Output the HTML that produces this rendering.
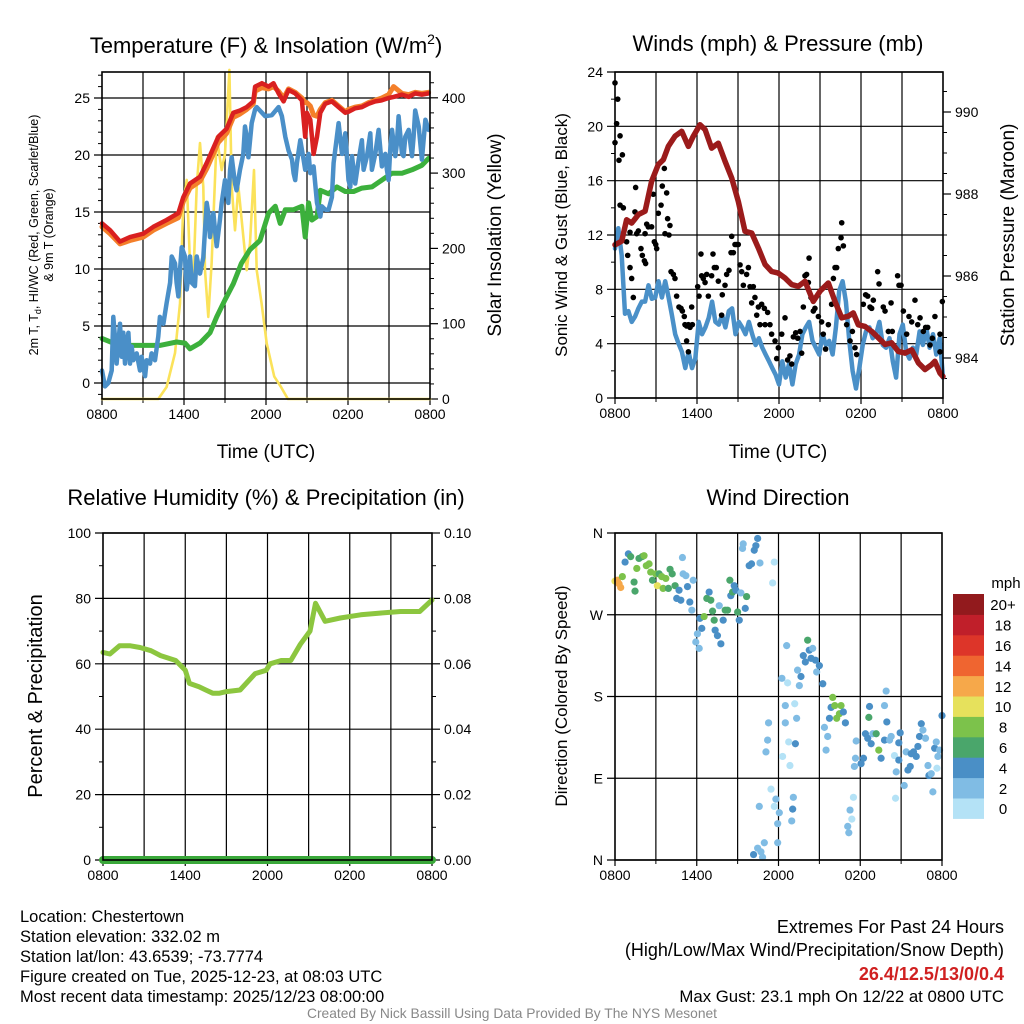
<!DOCTYPE html>
<html><head><meta charset="utf-8"><style>
body{margin:0;background:#fff;}
svg{display:block;font-family:"Liberation Sans",Arial,sans-serif;}
</style></head><body>
<svg id="c" width="1024" height="1024" viewBox="0 0 1024 1024"></svg>
<script>
// ---- Panel 1 data (hours since 0800 UTC) ----
const tempHours = [0,0.59,1.32,2.05,3.02,3.76,4.73,5.59,5.95,6.44,7.17,7.66,8.51,9.12,9.61,10.1,10.59,11.07,11.2,11.7,12.19,12.55,12.92,13.29,13.65,14.14,14.63,14.87,14.99,15.24,15.48,15.73,15.97,16.34,16.82,17.31,17.8,18.04,18.53,19.02,19.51,20.0,20.48,20.97,21.34,21.95,22.44,22.92,23.41,23.9];
const tempVals = [14.0,13.4,12.4,12.8,13.1,13.7,14.3,14.9,16.3,17.5,18.1,19.3,21.6,22.3,23.7,23.9,24.2,24.7,26.0,26.3,26.0,26.3,25.4,24.7,25.7,25.4,24.8,21.6,23.7,23.1,20.1,21.6,23.7,24.5,24.7,24.2,23.7,23.8,24.1,24.2,24.5,24.7,24.8,25.0,25.1,25.3,25.1,25.4,25.3,25.4];
const temp9Vals = [13.7,13.1,12.2,12.5,12.8,13.4,14.0,14.5,15.9,17.1,17.7,18.8,21.1,21.9,23.3,23.6,24.0,24.5,25.6,25.9,25.8,26.0,25.6,25.0,25.8,25.5,25.0,24.6,24.6,24.3,23.5,23.4,24.0,24.6,24.8,24.3,23.8,24.0,24.2,24.3,24.6,24.8,25.0,25.3,26.0,25.4,25.3,25.5,25.4,25.5];
const dewHours = [0,0.83,1.8,3.02,4.24,5.46,6.07,6.44,7.17,7.9,8.39,9.0,9.61,10.2,10.83,11.56,12.19,12.68,13.04,13.41,14.02,14.63,14.87,15.12,15.36,15.73,15.97,16.58,17.19,17.8,18.41,19.02,19.75,20.48,21.22,21.95,22.68,23.41,23.9];
const dewVals = [3.9,3.5,3.3,3.3,3.3,3.6,3.5,3.0,3.5,4.4,5.8,7.3,8.7,10.5,11.7,12.5,14.9,15.5,14.0,15.2,15.2,15.5,12.8,15.8,14.3,14.6,16.9,16.6,17.2,16.8,16.8,17.1,17.2,17.8,18.4,18.4,18.7,19.1,19.7];
const chillHours = [0,0.22,0.46,0.71,0.83,0.95,1.07,1.2,1.32,1.44,1.56,1.68,1.8,1.93,2.05,2.17,2.29,2.54,2.78,2.9,3.15,3.27,3.51,3.63,3.88,4.12,4.24,4.49,4.73,4.98,5.1,5.34,5.46,5.59,5.71,5.83,6.07,6.2,6.32,6.44,6.56,6.8,6.93,7.17,7.41,7.66,7.78,7.9,8.15,8.27,8.39,8.63,8.76,9.0,9.24,9.37,9.49,9.73,9.85,10.1,10.34,10.46,10.59,10.71,10.95,11.2,11.32,11.94,12.43,12.92,13.16,13.41,13.65,13.9,14.02,14.14,14.26,14.51,14.75,14.87,15.12,15.24,15.48,15.6,15.73,15.97,16.09,16.34,16.58,16.82,16.95,17.19,17.31,17.56,17.8,18.04,18.17,18.29,18.53,18.78,19.02,19.14,19.39,19.63,19.75,20.0,20.24,20.48,20.73,20.85,20.97,21.09,21.22,21.46,21.58,21.7,21.95,22.07,22.19,22.44,22.68,22.8,22.92,23.17,23.41,23.66,23.9];
const chillVals = [1.1,-0.3,0,1.1,5.8,4.0,1.7,3.5,5.2,2.3,4.4,1.7,3.5,4.4,1.7,3.2,2.0,2.6,1.1,2.3,0.6,2.0,1.7,2.6,2.0,4.1,5.8,5.2,7.0,8.8,11.1,10.5,8.8,7.6,9.9,11.9,11.1,8.2,9.3,11.1,8.8,8.5,11.1,9.6,11.0,15.8,14.9,12.8,14.9,13.4,12.0,14.3,15.8,17.8,15.8,18.7,19.8,17.5,16.9,18.7,20.1,22.5,21.6,19.8,22.8,24.0,24.2,23.4,23.5,24.2,23.4,21.6,20.4,19.6,18.4,17.8,19.3,21.3,19.6,18.7,20.1,18.4,19.0,17.5,15.8,14.6,15.5,15.2,15.2,16.3,19.3,21.6,22.8,20.1,21.9,17.8,17.2,19.9,17.5,19.6,21.3,18.7,19.9,21.9,18.7,20.1,22.2,19.0,20.1,18.7,17.8,20.4,22.2,19.9,21.0,23.4,20.1,19.9,21.6,22.2,19.9,21.6,23.9,22.5,19.6,23.1,22.2];
const solarHours = [0,4.12,4.73,5.34,5.71,5.95,6.2,6.44,6.68,6.93,7.17,7.41,7.54,7.78,8.02,8.39,8.76,9.0,9.32,9.49,9.73,9.98,10.34,10.59,10.83,11.12,11.32,11.68,12.05,12.6,13.1,13.6,24];
const solarVals = [0,0,16,61,127,260,291,180,158,282,340,282,171,109,180,348,304,326,437,282,224,282,216,171,207,304,171,127,74,30,16,0,0];
// ---- Panel 2 data ----
const windStep = 0.2449;
const windVals = [11.0,12.5,10.5,6.2,6.4,5.6,6.0,6.6,7.1,7.1,8.3,7.3,7.4,8.6,7.4,8.6,7.4,6.1,4.7,4.0,3.4,2.2,3.4,2.2,2.9,5.6,4.7,5.2,5.9,7.1,5.6,5.4,6.1,5.2,6.4,6.6,4.7,5.6,5.2,4.7,5.6,4.7,3.9,4.4,3.7,3.2,2.7,2.2,1.7,1.0,2.7,1.5,2.5,1.0,2.5,3.2,4.7,5.2,5.6,4.2,3.7,3.2,4.7,3.9,4.2,3.2,5.2,7.9,8.6,7.1,4.2,2.0,0.7,2.2,3.9,4.9,5.2,4.4,4.7,5.6,3.9,3.7,4.4,2.7,1.5,4.7,5.4,3.4,2.9,3.7,3.2,4.9,3.9,5.2,3.7,4.7,3.2,4.4,1.5];
const gustHours = [0,0.2,0.12,0,0.37,0.29,0.54,0.37,0.61,0.85,0.93,1.1,1.22,1.34,1.1,1.46,1.51,1.59,1.71,1.9,2.0,2.15,2.24,2.2,2.32,2.44,2.68,2.8,2.88,2.98,3.05,3.17,3.37,3.46,3.61,3.78,3.85,4.02,3.66,3.95,4.1,4.27,4.39,4.51,4.68,4.83,4.93,5.07,5.12,5.24,5.37,5.49,5.61,5.66,5.24,5.37,6.05,6.15,6.29,6.34,6.46,6.59,6.71,6.83,7.07,7.17,7.27,7.41,7.56,7.8,7.85,8.05,8.17,8.34,8.49,8.54,8.66,8.78,8.9,9.02,9.15,9.27,9.39,9.63,9.76,9.88,10.0,10.12,10.24,10.37,10.49,10.61,10.73,10.93,10.98,11.17,11.34,11.46,11.71,11.83,11.95,12.2,12.44,12.63,12.8,12.93,13.05,13.22,13.37,13.54,13.66,13.78,13.9,14.02,14.15,14.2,14.34,14.51,14.63,14.88,15.12,15.24,15.41,15.61,15.85,15.98,16.1,16.22,16.34,16.54,16.59,16.71,16.95,17.2,17.37,17.56,17.68,18.17,18.34,18.49,18.66,18.78,18.9,19.22,19.32,19.63,19.76,20.0,20.2,20.29,20.68,20.78,20.93,21.1,21.34,21.51,21.71,21.95,22.15,22.32,22.56,22.73,22.88,23.05,23.22,23.41,23.78,23.95,23.78];
const gustVals = [23.2,22.0,20.2,18.8,19.3,17.5,17.9,14.2,14.0,11.5,10.5,9.6,8.8,7.4,12.2,13.7,15.5,12.1,12.3,11.0,10.5,10.1,9.9,12.1,12.8,12.6,12.6,15.0,11.5,11.3,11.0,13.6,14.2,15.6,16.9,15.1,13.2,12.7,12.1,12.0,9.3,9.1,8.8,7.5,6.7,6.6,6.4,6.0,5.4,5.3,5.4,5.2,6.7,5.4,4.2,3.4,8.2,7.5,10.6,9.0,8.8,8.5,9.1,7.5,9.0,10.6,9.6,9.6,8.6,6.1,7.6,8.3,9.1,9.4,10.7,11.9,10.7,11.3,11.3,11.3,9.8,9.3,8.3,9.1,9.6,8.2,7.0,8.2,7.4,6.1,6.7,5.4,6.9,6.6,5.4,6.3,5.4,4.7,4.2,2.9,3.7,4.7,5.9,2.8,3.1,2.5,4.5,4.8,4.4,4.9,3.3,6.7,9.0,9.1,8.5,10.3,7.4,6.4,6.6,6.0,5.6,4.7,3.6,5.4,6.9,8.8,9.6,9.6,11.0,11.8,12.9,11.2,5.4,4.2,4.9,3.7,3.2,6.9,7.6,7.5,6.7,6.6,7.2,9.3,8.4,6.7,6.4,4.9,7.0,4.9,9.0,8.3,8.3,6.4,4.7,6.0,5.6,7.2,5.4,5.9,4.9,5.2,5.2,3.9,4.4,6.0,4.7,7.1,3.4];
const presHours = [0,0.49,0.85,1.22,1.71,2.2,2.68,3.17,3.54,3.9,4.39,4.88,5.37,5.73,6.22,6.59,7.07,7.56,8.05,8.54,9.02,9.51,10.0,10.49,10.98,11.46,11.95,12.44,12.93,13.41,13.9,14.51,15.0,15.61,16.1,16.59,17.07,17.44,17.8,18.29,18.78,19.27,19.76,20.24,20.73,21.22,21.71,22.2,22.68,23.17,23.41,23.78,24.0];
const presVals = [986.76,986.85,987.37,987.29,987.5,987.58,988.31,988.72,988.84,989.16,989.41,989.53,989.16,989.41,989.69,989.57,989.12,989.24,988.8,988.39,987.82,987.09,987.05,986.68,986.28,986.11,986.07,985.95,985.79,985.75,985.87,985.38,985.63,985.83,985.38,984.98,985.02,985.1,984.81,984.77,984.65,984.49,984.33,984.37,984.16,984.12,984.2,983.88,983.72,983.84,983.92,983.63,983.55];
// ---- Panel 3 data ----
const rhHours = [0,0.5,1.2,2,2.7,3.5,4.2,5.3,6,6.3,7,7.5,8,8.5,9,10,11.1,11.9,12.2,13,13.7,14.4,15.1,15.5,16.2,17.3,18.8,20.2,21.7,23.1,24];
const rhVals = [63.5,63,65.5,65.5,65,64,62.5,61,58,54,53,52,51,51,51.5,52,57,58,60,61,61,66,70,78.5,73,74,75,75.5,76,76,79.5];
const precipHours = [0,24];
const precipVals = [0,0];
// ---- Panel 4 data ----
const dirHours = [0,0.17,0.42,0.3,0.54,0.74,0.98,1.15,1.4,1.47,1.6,1.76,2.0,2.13,2.3,2.5,2.62,2.75,3.0,3.11,3.24,3.43,3.53,3.73,3.92,4.04,4.2,4.41,4.53,4.7,4.83,4.95,5.0,5.2,5.32,5.49,5.64,5.74,6.05,5.93,6.18,6.23,6.37,6.54,6.74,6.91,7.03,7.16,7.28,7.35,7.52,7.65,7.77,7.94,8.09,8.26,8.43,8.5,8.63,8.75,8.87,9.0,9.12,9.24,9.36,9.41,9.56,9.66,9.85,10.02,10.22,10.34,10.47,10.64,11.57,11.69,10.17,10.47,10.71,10.83,10.96,10.59,11.27,11.2,11.08,11.45,11.81,11.69,11.94,11.94,12.06,12.25,12.3,12.5,12.5,12.67,12.75,12.84,12.6,12.97,13.04,13.09,13.19,13.24,13.33,13.4,13.53,13.65,13.82,13.97,14.14,14.26,14.39,14.51,14.71,14.8,15.0,15.25,15.37,15.49,15.61,15.74,15.86,15.98,16.13,16.27,16.47,16.59,16.76,16.91,17.08,17.16,17.25,17.38,17.5,17.7,17.65,17.57,18.06,18.24,18.38,18.55,18.68,18.63,18.8,18.92,19.17,19.36,19.53,19.78,19.9,19.78,19.95,20.15,20.27,20.51,20.64,20.59,20.83,20.93,20.83,21.23,21.37,21.5,21.67,21.74,21.91,22.11,22.23,22.35,22.48,22.6,22.79,22.97,23.04,23.21,23.33,23.46,23.58,23.7,23.82,24.0,23.63];
const dirDeg = [307,308,300,304,312,328,337,334,306,296,321,332,334,335,324,326,317,308,315,302,315,312,299,310,299,320,315,302,288,297,286,333,315,313,301,284,275,308,249,240,233,266,255,268,288,295,286,274,264,253,247,280,238,264,275,275,308,291,295,302,297,273,264,294,343,348,277,290,324,326,341,346,354,327,305,328,6,13,9,3,19,59,151,132,119,78,67,59,40,19,52,200,114,151,170,195,130,104,236,43,56,69,172,128,156,209,192,202,225,218,242,231,222,233,220,207,214,194,146,121,136,156,168,179,170,156,161,170,163,151,37,30,55,45,69,131,112,103,106,112,139,134,169,157,128,139,139,121,112,132,186,170,152,132,136,115,97,68,110,140,129,82,119,99,103,117,119,114,125,136,150,143,134,104,93,95,75,123,130,114,121,159,101];
const dirSpeed = [10,12,12,12,8,4,4,6,6,6,8,6,6,8,8,8,8,6,8,10,6,8,8,8,6,6,6,6,4,4,4,2,2,2,4,4,2,2,2,2,2,4,4,8,6,4,6,6,6,4,4,2,4,4,6,6,6,4,6,4,4,6,4,2,2,2,4,6,4,4,4,4,4,2,0,0,4,2,2,2,2,2,2,2,2,0,2,1,2,2,2,2,0,2,2,0,0,0,2,2,4,2,0,4,2,2,2,4,4,4,6,4,4,2,4,2,4,4,2,2,2,4,4,8,8,8,8,8,4,4,2,2,2,0,0,2,2,2,4,4,4,4,4,6,4,2,6,8,4,4,2,2,4,2,2,0,2,0,4,4,4,2,2,4,4,4,4,4,4,4,4,2,2,2,4,2,2,4,2,2,2,4,0];
const speedBins = [0,2,4,6,8,10,12,14,16,18,20];
const speedLabels = ["0","2","4","6","8","10","12","14","16","18","20+"];
const speedColors = ["#b4e2f6","#80bce4","#4a8fc6","#4aa66b","#7cc24b","#e6e15c","#f6a84a","#ef6530","#dd3529","#c01f2a","#921a1d"];

const NS="http://www.w3.org/2000/svg";
const svg=document.getElementById('c');
function el(tag,attrs,parent){const e=document.createElementNS(NS,tag);for(const k in attrs)e.setAttribute(k,attrs[k]);(parent||svg).appendChild(e);return e;}
function txt(s,x,y,size,anchor,parent,extra){const t=el('text',Object.assign({x:x,y:y,'font-size':size,'text-anchor':anchor||'middle',fill:'#000'},extra||{}),parent);t.textContent=s;return t;}

function panel(name,L,R,T,B){
  const g=el('g',{});
  
  
  const xs=h=>L+h/24*(R-L);
  return {g,L,R,T,B,xs};
}
function lin(d0,d1,p0,p1){return v=>p0+(v-d0)/(d1-d0)*(p1-p0);}
function vgrid(P){
  for(let h=3;h<24;h+=3){const l=el('line',{x1:P.xs(h),x2:P.xs(h),y1:P.T,y2:P.B,stroke:'#000','stroke-width':1.2},P.g);
    
    }
  const labs=["0800","1400","2000","0200","0800"];
  labs.forEach((s,i)=>{const t=txt(s,P.xs(i*6),P.B+20,14,'middle',P.g);
    
    
    el('line',{x1:P.xs(i*6),x2:P.xs(i*6),y1:P.B,y2:P.B+6,stroke:'#000','stroke-width':1.2},P.g);});
  for(let h=3;h<24;h+=6) el('line',{x1:P.xs(h),x2:P.xs(h),y1:P.B,y2:P.B+4,stroke:'#000'},P.g);
}
function hgridLeft(P,ys,vals,labels,fs){
  vals.forEach((v,i)=>{const y=ys(v);
    const l=el('line',{x1:P.L-8,x2:P.R,y1:y,y2:y,stroke:'#000','stroke-width':1.2},P.g);
    
    
    const t=txt(labels[i],P.L-12,y+5,fs||14,'end',P.g);
    
    });
}
function rightTicks(P,ys,vals,labels){
  vals.forEach((v,i)=>{const y=ys(v);
    el('line',{x1:P.R,x2:P.R+8,y1:y,y2:y,stroke:'#000','stroke-width':1.2},P.g);
    const t=txt(labels[i],P.R+12,y+5,14,'start',P.g);
    
    });
}
function frame(P){const r=el('rect',{x:P.L,y:P.T,width:P.R-P.L,height:P.B-P.T,fill:'none',stroke:'#000','stroke-width':1.6},P.g);
  
  }
function path(P,xsArr,ysArr,xs,ys,color,w,name){
  const d=xsArr.map((h,i)=>(i?'L':'M')+xs(h).toFixed(1)+','+ys(ysArr[i]).toFixed(1)).join('');
  const p=el('path',{d:d,fill:'none',stroke:color,'stroke-width':w,'stroke-linejoin':'round','stroke-linecap':'round'},P.g);
  
  
  return p;
}
function title(s,x,y,parent){const t=txt(s,x,y,22,'middle',parent);return t;}
function vlabel(s,x,y,size,parent,name){const t=txt(s,x,y,size,'middle',parent,{transform:'rotate(-90 '+x+' '+y+')'});return t;}

// ===== Panel 1 =====
{
const P=panel('temperature-panel',102,430,72,399);
const yL=lin(0,25,383,98), yR=lin(0,400,399,97.8);
vgrid(P);
hgridLeft(P,yL,[0,5,10,15,20,25],["0","5","10","15","20","25"]);
for(let v=-1;v<=27;v++) if(v%5) el('line',{x1:P.L-4,x2:P.L,y1:yL(v),y2:yL(v),stroke:'#000'},P.g);
rightTicks(P,yR,[0,100,200,300,400],["0","100","200","300","400"]);
for(let v=20;v<440;v+=20) if(v%100) el('line',{x1:P.R,x2:P.R+4,y1:yR(v),y2:yR(v),stroke:'#000'},P.g);
path(P,solarHours,solarVals,P.xs,yR,'#fbe25a',2.6,'solar-insolation-line');
path(P,dewHours,dewVals,P.xs,yL,'#3cb03c',5,'dewpoint-line');
path(P,chillHours,chillVals,P.xs,yL,'#4a8fc8',4.5,'wind-chill-line');
path(P,tempHours,temp9Vals,P.xs,yL,'#f47f2a',5,'temp-9m-line');
path(P,tempHours,tempVals,P.xs,yL,'#d92020',4.5,'temp-2m-line');
frame(P);
const t=txt('',266,53,22,'middle',P.g);t.innerHTML='Temperature (F) &amp; Insolation (W/m<tspan dy="-9" font-size="14">2</tspan><tspan dy="9">)</tspan>';


const l1=txt('',38,235,12.5,'middle',P.g,{transform:'rotate(-90 38 235)'});
l1.innerHTML='2m T, T<tspan dy="3" font-size="9">d</tspan><tspan dy="-3">, HI/WC (Red, Green, Scarlet/Blue)</tspan>';


vlabel('& 9m T (Orange)',53,235,12.5,P.g,'left-axis-title-line2');
vlabel('Solar Insolation (Yellow)',501,235,19,P.g,'right-axis-title');
const xt=txt('Time (UTC)',266,458,19,'middle',P.g);
}
// ===== Panel 2 =====
{
const P=panel('winds-panel',615,943,72,398);
const yL=lin(0,24,398,72), yR=lin(984,990,358,112);
vgrid(P);
hgridLeft(P,yL,[0,4,8,12,16,20,24],["0","4","8","12","16","20","24"]);
for(let v=2;v<24;v+=4) el('line',{x1:P.L-4,x2:P.L,y1:yL(v),y2:yL(v),stroke:'#000'},P.g);
rightTicks(P,yR,[984,986,988,990],["984","986","988","990"]);
for(let v=983.5;v<991;v+=0.5) if(v%2) el('line',{x1:P.R,x2:P.R+4,y1:yR(v),y2:yR(v),stroke:'#000'},P.g);
path(P,windVals.map((v,i)=>i*windStep),windVals,P.xs,yL,'#4a90c8',4.5,'sonic-wind-line');
gustHours.forEach((h,i)=>{const c=el('circle',{cx:P.xs(h),cy:yL(gustVals[i]),r:2.8,fill:'#000'},P.g);
  
  });
path(P,presHours,presVals,P.xs,yR,'#9b1b1b',5.5,'pressure-line');
frame(P);
title('Winds (mph) & Pressure (mb)',778,51,P.g);
vlabel('Sonic Wind & Gust (Blue, Black)',567,235,17,P.g,'left-axis-title');
vlabel('Station Pressure (Maroon)',1014,235,19,P.g,'right-axis-title');
const xt=txt('Time (UTC)',778,458,19,'middle',P.g);
}
// ===== Panel 3 =====
{
const P=panel('humidity-panel',103,432,533,860);
const yL=lin(0,100,860,533), yR=lin(0,0.1,860,533);
vgrid(P);
hgridLeft(P,yL,[0,20,40,60,80,100],["0","20","40","60","80","100"]);
rightTicks(P,yR,[0,0.02,0.04,0.06,0.08,0.1],["0.00","0.02","0.04","0.06","0.08","0.10"]);
for(let v=10;v<100;v+=20){el('line',{x1:P.L-4,x2:P.L,y1:yL(v),y2:yL(v),stroke:'#000'},P.g);el('line',{x1:P.R,x2:P.R+4,y1:yL(v),y2:yL(v),stroke:'#000'},P.g);}
path(P,rhHours,rhVals,P.xs,yL,'#8cc63f',5,'relative-humidity-line');
path(P,precipHours,precipVals,P.xs,yR,'#3aa83a',8,'precipitation-line');
frame(P);
title('Relative Humidity (%) & Precipitation (in)',266,505,P.g);
vlabel('Percent & Precipitation',42,696,20,P.g,'left-axis-title');
}
// ===== Panel 4 =====
{
const P=panel('wind-direction-panel',615,942,533,860);
const yD=lin(0,360,860,533);
vgrid(P);
hgridLeft(P,yD,[0,90,180,270,360],["N","E","S","W","N"]);
dirHours.forEach((h,i)=>{let b=Math.min(10,Math.floor(dirSpeed[i]/2));
  const c=el('circle',{cx:P.xs(h),cy:yD(dirDeg[i]),r:3.6,fill:speedColors[b]},P.g);
  
  });
frame(P);
title('Wind Direction',778,505,P.g);
vlabel('Direction (Colored By Speed)',567,696,17,P.g,'left-axis-title');
const cb=el('g',{},P.g);


const top=594,h=20.4;
speedBins.forEach((v,i)=>{const y=top+(10-i)*h;
  const r=el('rect',{x:953,y:y,width:31,height:h+0.5,fill:speedColors[i]},cb);
  
  
  const t=txt(speedLabels[i],1003,y+h/2+6,15,'middle',cb);
  
  });
const mph=txt('mph',1006,588,15,'middle',cb);
}
// ===== Footer =====
const info=["Location: Chestertown","Station elevation: 332.02 m","Station lat/lon: 43.6539; -73.7774","Figure created on Tue, 2025-12-23, at 08:03 UTC","Most recent data timestamp: 2025/12/23 08:00:00"];
info.forEach((s,i)=>{const t=txt(s,20,922+i*20,16.5,'start');});
const ex=[["Extremes For Past 24 Hours",933,'#000','normal',18],["(High/Low/Max Wind/Precipitation/Snow Depth)",956,'#000','normal',18],["26.4/12.5/13/0/0.4",980,'#d02020','bold',18],["Max Gust: 23.1 mph On 12/22 at 0800 UTC",1002,'#000','normal',16.8]];
ex.forEach(e=>{const t=txt(e[0],1004,e[1],e[4],'end',null,{fill:e[2],'font-weight':e[3]});});
const cr=txt('Created By Nick Bassill Using Data Provided By The NYS Mesonet',512,1018,13.8,'middle',null,{fill:'#888'});


</script>
</body></html>
